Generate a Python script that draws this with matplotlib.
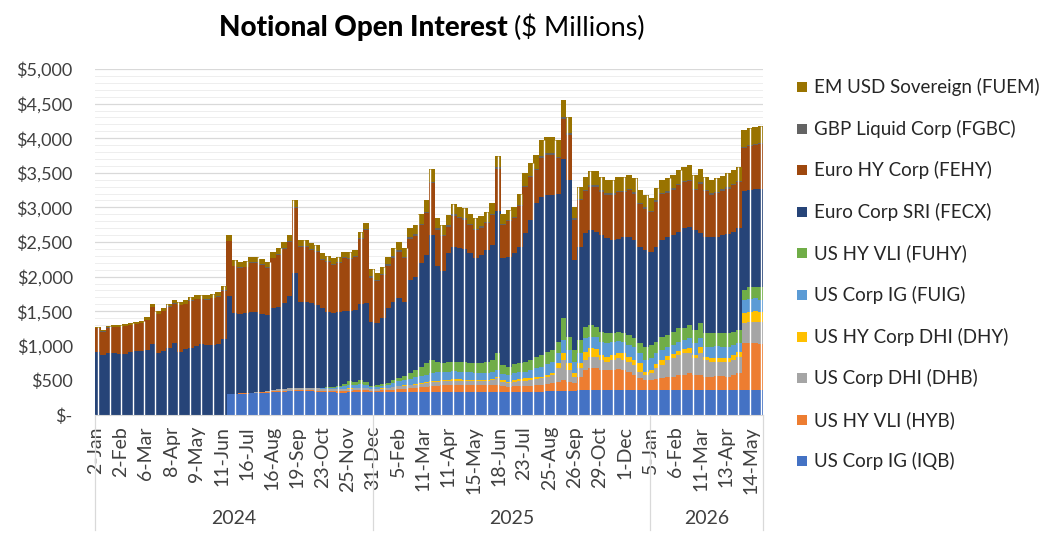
import numpy as np
import matplotlib.pyplot as plt
from matplotlib.patches import Rectangle
from matplotlib.ticker import FuncFormatter, MultipleLocator
import matplotlib.transforms as mtransforms

plt.rcParams['font.family'] = ['Lato', 'DejaVu Sans']

# ---------------------------------------------------------------------------
# data: notional open interest ($ millions), one reading per week
# (5 trading days per bar), Jan-2024 .. May-2026
# ---------------------------------------------------------------------------
iqb = [0, 0, 0, 0, 0, 0, 0, 0, 0, 0,
       0, 0, 0, 0, 0, 0, 0, 0, 0, 0,
       0, 0, 0, 0, 300, 305, 310, 310, 315, 320,
       320, 325, 330, 335, 335, 340, 345, 345, 340, 340,
       335, 330, 330, 330, 325, 325, 330, 330, 335, 335,
       337, 337, 337, 337, 335, 335, 335, 335, 335, 335,
       335, 335, 335, 335, 337, 337, 337, 337, 337, 337,
       337, 337, 337, 337, 337, 337, 337, 337, 337, 337,
       337, 337, 340, 347, 347, 352, 352, 352, 361, 361,
       361, 361, 361, 361, 361, 361, 361, 361, 361, 361,
       361, 361, 361, 361, 361, 361, 361, 361, 361, 361,
       361, 361, 361, 361, 361, 361, 361, 361, 361, 361,
       361, 361]

hyb = [0, 0, 0, 0, 0, 0, 0, 0, 0, 0,
       0, 0, 0, 0, 0, 0, 0, 0, 0, 0,
       0, 0, 0, 0, 0, 0, 2, 3, 5, 5,
       8, 8, 10, 10, 12, 12, 12, 15, 15, 15,
       18, 18, 20, 20, 20, 22, 22, 25, 25, 25,
       13, 13, 18, 23, 30, 40, 45, 50, 60, 70,
       75, 85, 90, 95, 95, 97, 97, 97, 97, 97,
       97, 97, 97, 97, 83, 72, 77, 80, 82, 88,
       93, 97, 105, 111, 135, 154, 130, 106, 193, 289,
       313, 313, 289, 289, 289, 299, 289, 265, 217, 169,
       145, 145, 154, 169, 193, 193, 217, 217, 241, 217,
       217, 193, 193, 204, 204, 193, 217, 241, 675, 675,
       675, 669]

dhb = [0, 0, 0, 0, 0, 0, 0, 0, 0, 0,
       0, 0, 0, 0, 0, 0, 0, 0, 0, 0,
       0, 0, 0, 0, 0, 0, 0, 0, 3, 5,
       10, 15, 20, 25, 30, 35, 35, 35, 30, 30,
       30, 30, 30, 30, 30, 30, 30, 30, 30, 30,
       20, 25, 25, 25, 35, 45, 45, 45, 45, 45,
       50, 60, 55, 60, 63, 62, 62, 61, 61, 56,
       54, 61, 71, 96, 60, 49, 56, 68, 77, 80,
       88, 96, 110, 120, 192, 289, 168, 96, 120, 145,
       169, 159, 145, 121, 145, 159, 145, 145, 144, 96,
       72, 106, 159, 192, 241, 265, 289, 313, 289, 241,
       313, 241, 217, 206, 206, 217, 217, 241, 289, 313,
       313, 310]

dhy = [0, 0, 0, 0, 0, 0, 0, 0, 0, 0,
       0, 0, 0, 0, 0, 0, 0, 0, 0, 0,
       0, 0, 0, 0, 0, 0, 0, 0, 0, 0,
       0, 0, 0, 0, 0, 0, 0, 0, 0, 0,
       0, 0, 2, 2, 3, 3, 3, 3, 3, 3,
       2, 2, 3, 3, 3, 4, 5, 6, 6, 6,
       10, 10, 15, 15, 15, 19, 19, 17, 15, 15,
       14, 15, 15, 24, 20, 24, 30, 30, 34, 33,
       28, 24, 23, 24, 73, 105, 97, 48, 73, 120,
       120, 117, 72, 72, 72, 72, 96, 72, 73, 121,
       48, 38, 63, 73, 57, 61, 58, 59, 72, 48,
       96, 48, 59, 59, 48, 48, 72, 72, 144, 144,
       159, 153]

fuig = [0, 0, 0, 0, 0, 0, 0, 0, 0, 0,
        0, 0, 0, 0, 0, 0, 0, 0, 0, 0,
        0, 0, 0, 0, 0, 0, 0, 0, 0, 0,
        0, 0, 0, 0, 0, 0, 0, 0, 0, 3,
        5, 5, 8, 10, 20, 35, 50, 45, 50, 40,
        28, 33, 37, 42, 57, 66, 70, 84, 99, 114,
        110, 120, 125, 120, 115, 115, 111, 108, 105, 100,
        100, 100, 105, 96, 90, 96, 100, 100, 96, 112,
        129, 144, 157, 169, 144, 184, 192, 169, 144, 193,
        169, 172, 193, 193, 193, 184, 169, 169, 183, 144,
        169, 169, 154, 144, 135, 132, 135, 134, 145, 169,
        121, 144, 157, 165, 168, 168, 145, 121, 193, 178,
        178, 169]

fuhy = [0, 0, 0, 0, 0, 0, 0, 0, 0, 0,
        0, 0, 0, 0, 0, 0, 0, 0, 0, 0,
        0, 0, 0, 0, 0, 0, 0, 0, 0, 0,
        0, 0, 0, 0, 0, 0, 0, 0, 0, 3,
        5, 5, 8, 10, 20, 40, 55, 50, 60, 40,
        20, 20, 25, 30, 40, 50, 60, 80, 105, 130,
        170, 180, 140, 125, 140, 140, 145, 140, 135, 140,
        145, 150, 175, 240, 130, 120, 130, 140, 145, 150,
        160, 169, 170, 168, 169, 316, 191, 168, 193, 169,
        169, 155, 144, 144, 130, 129, 120, 144, 130, 145,
        192, 193, 169, 193, 169, 192, 192, 168, 193, 192,
        217, 193, 193, 195, 193, 193, 192, 192, 144, 184,
        169, 193]

fecx = [906, 860, 890, 890, 880, 880, 905, 925, 925, 940,
        1020, 900, 930, 975, 1040, 915, 960, 975, 995, 1020,
        1010, 1005, 1020, 1100, 1420, 1165, 1148, 1167, 1167, 1160,
        1122, 1097, 1180, 1195, 1238, 1333, 1658, 1245, 1255, 1224,
        1197, 1152, 1097, 1068, 1077, 1055, 1010, 1032, 1107, 1142,
        920, 895, 955, 1080, 1140, 1150, 1080, 1350, 1350, 1490,
        1560, 1810, 1390, 1330, 1575, 1660, 1639, 1635, 1585, 1520,
        1563, 1625, 1655, 2060, 1550, 1592, 1605, 1675, 1854, 2020,
        2225, 2288, 2275, 2241, 2140, 2300, 2270, 1301, 1346, 1348,
        1369, 1373, 1396, 1375, 1340, 1346, 1395, 1414, 1422, 1394,
        1398, 1348, 1370, 1398, 1419, 1396, 1398, 1448, 1419, 1442,
        1300, 1395, 1395, 1385, 1420, 1440, 1446, 1472, 1424, 1395,
        1405, 1410]

fehy = [345, 345, 373, 383, 393, 400, 395, 392, 400, 435,
        540, 560, 575, 590, 570, 675, 645, 672, 677, 652,
        657, 682, 690, 697, 790, 680, 665, 655, 705, 705,
        708, 678, 723, 748, 783, 778, 945, 790, 790, 775,
        765, 705, 710, 700, 700, 755, 760, 770, 935, 1055,
        645, 605, 620, 620, 635, 670, 630, 600, 590, 550,
        605, 750, 530, 500, 380, 450, 435, 430, 410, 410,
        395, 390, 435, 610, 470, 510, 505, 590, 670, 615,
        480, 565, 580, 580, 510, 580, 650, 580, 670, 605,
        630, 650, 625, 630, 655, 670, 645, 680, 670, 620,
        595, 575, 650, 665, 635, 655, 670, 665, 660, 580,
        715, 655, 610, 630, 640, 650, 670, 665, 630, 635,
        640, 650]

fgbc = [5, 5, 5, 5, 5, 5, 5, 5, 5, 5,
        5, 5, 5, 5, 5, 5, 5, 8, 8, 8,
        8, 8, 8, 8, 10, 10, 10, 10, 10, 10,
        12, 12, 12, 12, 12, 12, 15, 15, 15, 15,
        15, 15, 15, 15, 15, 15, 15, 15, 15, 15,
        20, 20, 20, 20, 20, 20, 20, 20, 20, 20,
        20, 20, 20, 20, 20, 20, 20, 20, 20, 20,
        20, 20, 20, 20, 20, 20, 20, 20, 20, 20,
        20, 20, 20, 20, 20, 20, 20, 20, 20, 20,
        20, 20, 20, 20, 20, 20, 20, 20, 20, 20,
        20, 20, 20, 20, 20, 20, 20, 20, 20, 20,
        20, 20, 20, 20, 20, 20, 20, 20, 20, 20,
        20, 20]

fuem = [20, 20, 22, 22, 22, 25, 25, 28, 30, 30,
        35, 35, 40, 40, 45, 45, 50, 55, 60, 60,
        60, 60, 62, 65, 80, 80, 80, 80, 80, 80,
        80, 80, 85, 85, 90, 90, 90, 85, 85, 85,
        85, 80, 80, 80, 80, 80, 85, 85, 90, 95,
        100, 100, 100, 110, 115, 120, 120, 130, 135, 150,
        165, 180, 150, 150, 150, 150, 145, 145, 145, 145,
        145, 145, 150, 170, 140, 140, 150, 160, 175, 185,
        200, 230, 240, 240, 240, 250, 230, 170, 180, 190,
        200, 200, 195, 195, 195, 200, 200, 200, 200, 180,
        180, 175, 180, 185, 190, 195, 200, 205, 210, 200,
        200, 195, 195, 195, 195, 200, 200, 205, 240, 240,
        245, 245]

# bottom -> top stacking order
series = [
    ('US Corp IG (IQB)', iqb, '#4472C4'),
    ('US HY VLI (HYB)', hyb, '#ED7D31'),
    ('US Corp DHI (DHB)', dhb, '#A5A5A5'),
    ('US HY Corp DHI (DHY)', dhy, '#FFC000'),
    ('US Corp IG (FUIG)', fuig, '#5B9BD5'),
    ('US HY VLI (FUHY)', fuhy, '#70AD47'),
    ('Euro Corp SRI (FECX)', fecx, '#264478'),
    ('Euro HY Corp (FEHY)', fehy, '#9E480E'),
    ('GBP Liquid Corp (FGBC)', fgbc, '#636363'),
    ('EM USD Sovereign (FUEM)', fuem, '#997300'),
]

tick_labels = ['2-Jan', '2-Feb', '6-Mar', '8-Apr', '9-May', '11-Jun', '16-Jul',
               '16-Aug', '19-Sep', '23-Oct', '25-Nov', '31-Dec', '5-Feb',
               '11-Mar', '11-Apr', '15-May', '18-Jun', '23-Jul', '25-Aug',
               '26-Sep', '29-Oct', '1-Dec', '5-Jan', '6-Feb', '11-Mar',
               '13-Apr', '14-May']
years = ['2024', '2025', '2026']
year_start_day = [0, 254, 506]   # trading-day index where each year begins

# ---------------------------------------------------------------------------
W, H = 1059, 536
fig = plt.figure(figsize=(W / 100, H / 100), dpi=100)
ax = fig.add_axes([95 / W, 1 - 415 / H, (763.5 - 95) / W, (415 - 69) / H])

n = len(iqb)
x = np.arange(n)
bottom = np.zeros(n)
for name, vals, color in series:
    vals = np.asarray(vals, dtype=float)
    ax.bar(x, vals, width=1.04, bottom=bottom, color=color, linewidth=0,
           zorder=2)
    bottom += vals
totals = bottom

# thin white seams that break the bar block into columns
gap_x = np.arange(0.1, n - 0.5, 2.086)
gap_top = totals[np.clip(np.round(gap_x).astype(int), 0, n - 1)]
ax.vlines(gap_x, 0, gap_top, colors='white', linewidth=1.0, zorder=3)

# y axis
ax.set_ylim(0, 5000)
ax.yaxis.set_major_locator(MultipleLocator(500))
ax.yaxis.set_minor_locator(MultipleLocator(100))
ax.yaxis.set_major_formatter(FuncFormatter(
    lambda v, p: '$-' if v == 0 else f'${v:,.0f}'))
ax.grid(axis='y', which='major', color='#d9d9d9', linewidth=0.9, zorder=0)
ax.grid(axis='y', which='minor', color='#eeeeee', linewidth=0.7, zorder=0)
ax.set_axisbelow(True)
ax.tick_params(axis='y', which='both', length=0, pad=16, labelsize=13,
               labelcolor='#404040')

# x axis (category ticks every 23 trading days, 5 days per bar)
days_per_bar = 5
ax.set_xlim(-0.5, n - 0.5)
tick_pos = np.arange(len(tick_labels)) * 23 / days_per_bar - 0.4
ax.set_xticks(tick_pos)
ax.set_xticklabels(tick_labels, rotation=90, fontsize=14, color='#404040')
ax.tick_params(axis='x', length=0, pad=8)

for side in ['top', 'right', 'left']:
    ax.spines[side].set_visible(False)
ax.spines['bottom'].set_color('#d9d9d9')

# year grouping row
trans = mtransforms.blended_transform_factory(ax.transData, ax.transAxes)
edges = [d / days_per_bar - 0.5 for d in year_start_day] + [n - 0.5]
for e in edges:
    ax.plot([e, e], [0, -0.333], transform=trans, clip_on=False,
            color='#d9d9d9', linewidth=0.9)
for i, yr in enumerate(years):
    ax.text((edges[i] + edges[i + 1]) / 2, -0.298, yr, transform=trans,
            ha='center', va='center', fontsize=14, color='#404040')

# title
fig.text(508 / W, 1 - 28 / H, 'Notional Open Interest', ha='right',
         va='center', fontsize=20, fontweight='black', color='black')
fig.text(514 / W, 1 - 28 / H, '($ Millions)', ha='left', va='center',
         fontsize=19.5, color='black')

# legend (top entry is the top of the stack)
for i, (name, vals, color) in enumerate(series[::-1]):
    yc = 87 + i * 41.6
    fig.patches.append(Rectangle((797 / W, 1 - (yc + 5) / H), 10 / W, 10 / H,
                                 transform=fig.transFigure, facecolor=color,
                                 edgecolor='none'))
    fig.text(814 / W, 1 - yc / H, name, ha='left', va='center',
             fontsize=13.5, color='#262626')

fig.savefig('out.png', dpi=100)
